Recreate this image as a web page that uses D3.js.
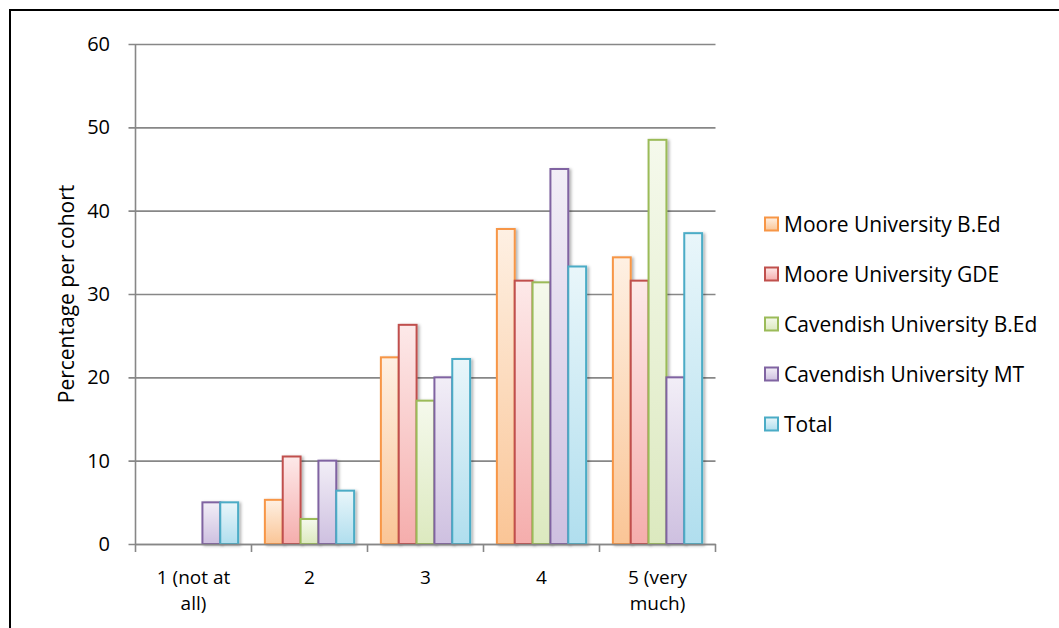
<!DOCTYPE html>
<html><head><meta charset="utf-8">
<script src="https://cdn.jsdelivr.net/npm/d3@7"></script>
<style>body{margin:0;background:#fff;} svg{display:block;} text{font-family:"Open Sans",sans-serif;fill:#000;}</style>
</head><body>
<svg id="c" width="1059" height="628"></svg>
<script>
const categories = ["1 (not at all)", "2", "3", "4", "5 (very much)"];
const categoryLines = [["1 (not at", "all)"], ["2"], ["3"], ["4"], ["5 (very", "much)"]];
const seriesNames = ["Moore University B.Ed", "Moore University GDE", "Cavendish University B.Ed", "Cavendish University MT", "Total"];
const mooreBEd = [0, 5.3, 22.4, 37.8, 34.4];
const mooreGDE = [0, 10.5, 26.3, 31.6, 31.6];
const cavBEd = [0, 3.0, 17.2, 31.4, 48.5];
const cavMT = [5.0, 10.0, 20.0, 45.0, 20.0];
const total = [5.0, 6.4, 22.2, 33.3, 37.3];
const yTicks = [0, 10, 20, 30, 40, 50, 60];

const seriesValues = [mooreBEd, mooreGDE, cavBEd, cavMT, total];
const strokes = ["#F79646", "#C0504D", "#9BBB59", "#8064A2", "#4BACC6"];
const topFill = ["#FEF0E3", "#FDE9E9", "#F5F9EC", "#F2EEF7", "#E9F6FA"];
const botFill = ["#FAC596", "#F5ADAC", "#DCE9BF", "#CEC0E0", "#B0DEEE"];

const svg = d3.select("#c");
const defs = svg.append("defs");
seriesNames.forEach((s, i) => {
  const g = defs.append("linearGradient").attr("id", "g" + i).attr("x1", 0).attr("y1", 0).attr("x2", 0).attr("y2", 1);
  g.append("stop").attr("offset", "0%").attr("stop-color", topFill[i]);
  g.append("stop").attr("offset", "100%").attr("stop-color", botFill[i]);
});
const f = defs.append("filter").attr("id", "sh").attr("x", "-20%").attr("y", "-20%").attr("width", "160%").attr("height", "140%");
f.append("feDropShadow").attr("dx", 2).attr("dy", 1).attr("stdDeviation", 1.6).attr("flood-color", "#000").attr("flood-opacity", 0.3);

// outer frame
svg.append("rect").attr("x", 10).attr("y", 10).attr("width", 1100).attr("height", 700)
  .attr("fill", "none").attr("stroke", "#000").attr("stroke-width", 2);

const pLeft = 135.5, pRight = 715.5, pTop = 44, pBottom = 544;
const y = d3.scaleLinear().domain([0, 60]).range([pBottom, pTop]);
const x0 = d3.scaleBand().domain(categories).range([pLeft, pRight]).paddingInner(0).paddingOuter(0);
const x1 = d3.scaleBand().domain(seriesNames).range([0, x0.bandwidth()]).paddingInner(0).paddingOuter(0.75);

// gridlines + y axis
const yAxis = d3.axisLeft(y).tickValues(yTicks).tickSize(-(pRight - pLeft)).tickPadding(0).tickFormat("");
const ga = svg.append("g").attr("transform", `translate(${pLeft},0)`).call(yAxis);
ga.select(".domain").remove();
ga.selectAll(".tick line").attr("stroke", "#878787").attr("stroke-width", 1.6).attr("x1", -7);
svg.append("g").selectAll("text").data(yTicks).join("text")
  .attr("x", 110).attr("y", d => y(d) + 7).attr("text-anchor", "end").attr("font-size", 20).text(d => d);
svg.append("line").attr("x1", pLeft).attr("x2", pLeft).attr("y1", pTop).attr("y2", pBottom).attr("stroke", "#878787").attr("stroke-width", 1.6);

// bars
const groups = svg.append("g").selectAll("g").data(categories).join("g")
  .attr("transform", d => `translate(${x0(d)},0)`);
groups.selectAll("rect").data((c, ci) => seriesNames.map((s, si) => ({s, si, v: seriesValues[si][ci]})).filter(d => d.v > 0))
  .join("rect")
  .attr("x", d => x1(d.s)).attr("width", x1.bandwidth())
  .attr("y", d => y(d.v)).attr("height", d => y(0) - y(d.v))
  .attr("fill", d => `url(#g${d.si})`).attr("stroke", d => strokes[d.si]).attr("stroke-width", 2)
  .attr("filter", "url(#sh)");

// x axis
const xAxis = d3.axisBottom(x0).tickSize(0).tickFormat("");
const gx = svg.append("g").attr("transform", `translate(0,${pBottom})`).call(xAxis);
gx.select(".domain").attr("stroke", "#878787").attr("stroke-width", 1.6);
svg.append("g").selectAll("line").data(categories.concat(["end"])).join("line")
  .attr("x1", (d, i) => pLeft + i * x0.step()).attr("x2", (d, i) => pLeft + i * x0.step())
  .attr("y1", pBottom).attr("y2", pBottom + 8).attr("stroke", "#878787").attr("stroke-width", 1.6);
const labelRows = [];
categories.forEach((c, i) => categoryLines[i].forEach((t, j) => labelRows.push({c, t, j})));
svg.append("g").selectAll("text").data(labelRows).join("text")
  .attr("text-anchor", "middle").attr("font-size", 19)
  .attr("x", d => x0(d.c) + x0.bandwidth() / 2)
  .attr("y", d => 584 + d.j * 26).text(d => d.t);

// y title
svg.append("text").attr("transform", `translate(74,${(pTop + pBottom) / 2}) rotate(-90)`)
  .attr("text-anchor", "middle").attr("font-size", 21).text("Percentage per cohort");

// legend
const lg = svg.append("g").selectAll("g").data(seriesNames).join("g")
  .attr("transform", (d, i) => `translate(764,${224 + i * 50})`);
lg.append("rect").attr("x", 1).attr("y", -6.5).attr("width", 13).attr("height", 13)
  .attr("fill", (d, i) => `url(#g${i})`).attr("stroke", (d, i) => strokes[i]).attr("stroke-width", 2);
lg.append("text").attr("x", 20).attr("y", 8).attr("font-size", 21).text(d => d);
</script>
</body></html>
